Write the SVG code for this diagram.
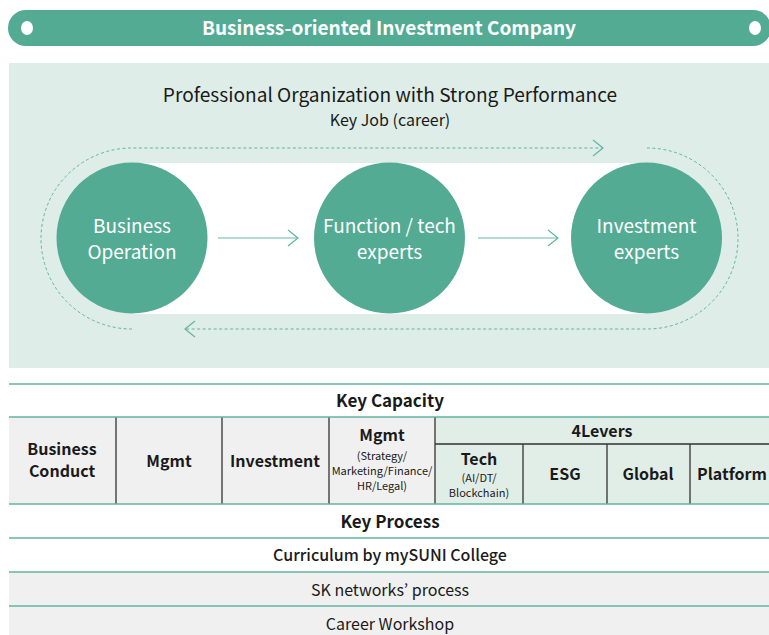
<svg xmlns="http://www.w3.org/2000/svg" width="769" height="635" viewBox="0 0 769 635">
<style>
text{font-family:"Noto Sans CJK KR","Noto Sans",sans-serif;text-anchor:middle;fill:#1a1a1a}
.w{fill:#fff}
.b{font-weight:700}
.node{fill:#53ab94}
.ct{font-size:19px;fill:#fff}
.hl{stroke:#5fb59e;stroke-width:1.5;fill:none}
.vl{stroke:#333;stroke-width:1.3;fill:none}
.dash{stroke:#5fb59e;stroke-width:1;fill:none;stroke-dasharray:3 2.5}
.sol{stroke:#6dbaa5;stroke-width:1.2;fill:none}
.cell{font-size:16px;font-weight:700}
.sm{font-size:11px}
.row{font-size:16px}
</style>
<defs>
<marker id="chev" viewBox="0 0 12 18" refX="11" refY="9" markerWidth="12" markerHeight="18" markerUnits="userSpaceOnUse" orient="auto">
<path d="M1,1 L11,9 L1,17" fill="none" stroke="#5fb59e" stroke-width="1.2"/>
</marker>
</defs>
<g id="header">
<rect x="8" y="10" width="763" height="36" rx="18" fill="#53ab94"/>
<ellipse cx="27" cy="28" rx="6" ry="7" fill="#fff"/>
<ellipse cx="755" cy="28" rx="6" ry="7" fill="#fff"/>
<text x="389" y="35" class="w b" style="font-size:19px">Business-oriented Investment Company</text>
</g>
<g id="panel">
<rect x="9" y="63" width="760" height="305" fill="#deede7"/>
<rect x="132" y="163" width="515" height="151" fill="#fff"/>
<text x="390" y="102" style="font-size:19.1px">Professional Organization with Strong Performance</text>
<text x="390" y="126" style="font-size:16px">Key Job (career)</text>
</g>
<g id="connectors">
<path class="dash" d="M132,329 A91,90.5 0 0 1 132,148 L603,148" marker-end="url(#chev)"/>
<path class="dash" d="M647,148 A91,90.5 0 0 1 647,329 L185,329" marker-end="url(#chev)"/>
<path class="sol" d="M218,238 L298,238" marker-end="url(#chev)"/>
<path class="sol" d="M478,238 L558,238" marker-end="url(#chev)"/>
</g>
<g id="node-business-operation">
<circle class="node" cx="132" cy="238" r="75.5"/>
<text x="132" y="233" class="ct">Business</text>
<text x="132" y="259" class="ct">Operation</text>
</g>
<g id="node-function-tech">
<circle class="node" cx="389.5" cy="238" r="75.5"/>
<text x="389.5" y="233" class="ct">Function / tech</text>
<text x="389.5" y="259" class="ct">experts</text>
</g>
<g id="node-investment-experts">
<circle class="node" cx="646.5" cy="238" r="75.5"/>
<text x="646.5" y="233" class="ct">Investment</text>
<text x="646.5" y="259" class="ct">experts</text>
</g>
<g id="table">
<rect x="9" y="417" width="426" height="87" fill="#f0f0f0"/>
<rect x="435" y="417" width="334" height="87" fill="#e1eee8"/>
<rect x="9" y="572" width="760" height="63" fill="#f0f0f0"/>
<path class="vl" d="M116,417V504M222,417V504M329,417V504M435,417V504M523,444V504M607,444V504M690,444V504M435,444H769"/>
<path class="hl" d="M9,384H769M9,417H769M9,504H769M9,538H769M9,572H769M9,606H769"/>
<text x="390" y="407" class="b" style="font-size:17px">Key Capacity</text>
<text x="62" y="455" class="cell">Business</text>
<text x="62" y="477" class="cell">Conduct</text>
<text x="169" y="467" class="cell">Mgmt</text>
<text x="275" y="467" class="cell">Investment</text>
<text x="382" y="441" class="cell">Mgmt</text>
<text x="382" y="460" class="sm">(Strategy/</text>
<text x="382" y="475" class="sm">Marketing/Finance/</text>
<text x="382" y="490" class="sm">HR/Legal)</text>
<text x="602" y="437" style="font-size:16px;font-weight:600">4Levers</text>
<text x="479" y="465" class="cell">Tech</text>
<text x="479" y="482" class="sm">(AI/DT/</text>
<text x="479" y="497" class="sm">Blockchain)</text>
<text x="565" y="480" class="cell">ESG</text>
<text x="648" y="480" class="cell">Global</text>
<text x="732" y="480" class="cell">Platform</text>
<text x="390" y="528" class="b" style="font-size:17px">Key Process</text>
<text x="390" y="561" class="row" style="font-weight:500">Curriculum by mySUNI College</text>
<text x="390" y="596" class="row">SK networks’ process</text>
<text x="390" y="630" class="row">Career Workshop</text>
</g>
</svg>
